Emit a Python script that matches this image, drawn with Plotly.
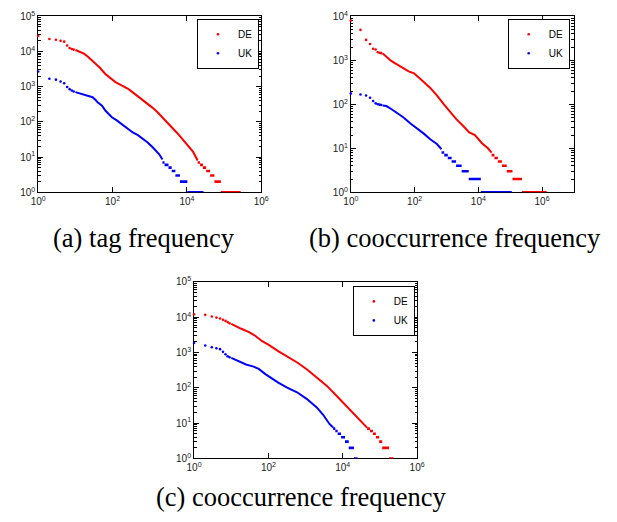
import plotly.graph_objects as go

# ---------------- data ----------------
# Panel (a) tag frequency
a_de_rank_sparse = [1, 2, 3, 4, 5, 6, 7, 8, 9]
a_de_freq_sparse = [27600, 22500, 21500, 20000, 19000, 14700, 12600, 11800, 11300]
a_de_rank_body = [10, 13, 17, 21, 28, 35, 45, 64, 80, 117, 160, 214, 262, 350, 480, 650, 880,
                  1200, 1600, 2200, 2900, 4000, 5300, 7500, 9800, 14700, 19500]
a_de_freq_body = [11000, 9800, 8700, 7300, 5600, 4600, 3500, 2300, 1900, 1370, 1150, 1000, 870,
                  690, 540, 420, 330, 250, 190, 135, 100, 70, 50, 33, 24, 14, 8]
a_de_step_freq = [7, 6, 5, 4, 3, 2, 1]
a_de_step_from = [19500, 22500, 27000, 33000, 42000, 55000, 82000]
a_de_step_to = [22500, 27000, 33000, 42000, 55000, 82000, 280000]

a_uk_rank_sparse = [1, 2, 3, 4, 5, 6, 7, 8, 9]
a_uk_freq_sparse = [2700, 1670, 1580, 1400, 1250, 980, 850, 780, 730]
a_uk_rank_body = [10, 13, 17, 22, 29, 35, 39, 52, 64, 80, 96, 130, 160, 210, 262, 350, 480, 650,
                  880, 1200, 1450, 1800, 2200]
a_uk_freq_body = [700, 650, 600, 540, 500, 420, 365, 290, 210, 165, 135, 110, 94, 75, 62, 50, 42,
                  33, 26, 19, 15.6, 12, 8.5]
a_uk_step_freq = [7, 6, 5, 4, 3, 2, 1]
a_uk_step_from = [2200, 2500, 3200, 3900, 4900, 6500, 10300]
a_uk_step_to = [2500, 3200, 3900, 4900, 6500, 10300, 28000]

# Panel (b) cooccurrence frequency
b_de_rank_sparse = [1, 2, 3, 4, 5, 6, 7, 8, 9]
b_de_freq_sparse = [8000, 4900, 2900, 2350, 1820, 1750, 1520, 1480, 1450]
b_de_rank_body = [10, 13, 18, 24, 30, 47, 65, 96, 122, 194, 310, 500, 795, 1270, 2030, 3240, 5200,
                  7800, 13000, 20000, 26000]
b_de_freq_body = [1420, 1180, 980, 860, 775, 650, 560, 505, 425, 320, 235, 160, 103, 69, 46, 33,
                  23, 20, 13, 10, 8]
b_de_step_freq = [7, 6, 5, 4, 3, 2, 1]
b_de_step_from = [26000, 32000, 41000, 55000, 78000, 118000, 235000]
b_de_step_to = [32000, 41000, 55000, 78000, 118000, 235000, 1400000]

b_uk_rank_sparse = [1, 2, 3, 4, 5, 6, 7, 8, 9]
b_uk_freq_sparse = [175, 167, 158, 141, 118, 105, 100, 98, 96]
b_uk_rank_body = [10, 13, 18.5, 26, 32, 45, 76, 122, 195, 310, 500, 700]
b_uk_freq_body = [94, 91, 78, 66, 60, 50, 36, 28, 21.5, 16, 12.5, 9.5]
b_uk_step_freq = [8, 7, 6, 5, 4, 3, 2, 1]
b_uk_step_from = [700, 850, 1100, 1450, 2000, 3000, 5000, 12000]
b_uk_step_to = [850, 1100, 1450, 2000, 3000, 5000, 12000, 112000]

# Panel (c) cooccurrence frequency
c_de_rank_sparse = [1, 2, 3, 4, 5, 6, 7, 8, 9]
c_de_freq_sparse = [12200, 11700, 10500, 9800, 9200, 8500, 7900, 7300, 6800]
c_de_rank_body = [10, 13, 18, 30, 45, 68, 100, 183, 335, 610, 1120, 2050, 3750, 6800, 12500,
                  20500, 34000, 45000]
c_de_freq_body = [6500, 5600, 4800, 3800, 2950, 2100, 1670, 1100, 760, 515, 325, 193, 114, 60,
                  31, 17, 10, 7.5]
c_de_step_freq = [7, 6, 5, 4, 3, 2, 1]
c_de_step_from = [45000, 54000, 65000, 78000, 95000, 115000, 175000]
c_de_step_to = [54000, 65000, 78000, 95000, 115000, 175000, 230000]

c_uk_rank_sparse = [1, 2, 3, 4, 5, 6, 7, 8, 9]
c_uk_freq_sparse = [1860, 1580, 1410, 1330, 1250, 1050, 900, 790, 740]
c_uk_rank_body = [10, 15, 25, 40, 55, 83, 123, 184, 320, 590, 1070, 2000, 3000, 4400, 5500]
c_uk_freq_body = [710, 580, 460, 400, 345, 245, 182, 141, 102, 75, 49, 28, 17, 9.5, 7.5]
c_uk_step_freq = [7, 6, 5, 4, 3, 2, 1]
c_uk_step_from = [5500, 6300, 7300, 9000, 11500, 14500, 20000]
c_uk_step_to = [6300, 7300, 9000, 11500, 14500, 20000, 25000]

series_names = ["DE", "UK"]
x_tick_vals = [1, 100, 10000, 1000000]
x_tick_text = ["10<sup>0</sup>", "10<sup>2</sup>", "10<sup>4</sup>", "10<sup>6</sup>"]
y_tick_vals = [1, 10, 100, 1000, 10000, 100000]
y_tick_text = ["10<sup>0</sup>", "10<sup>1</sup>", "10<sup>2</sup>", "10<sup>3</sup>",
               "10<sup>4</sup>", "10<sup>5</sup>"]
captions = ["(a) tag frequency", "(b) cooccurrence frequency", "(c) cooccurrence frequency"]

RED = "#ff0000"
BLUE = "#0000ff"
W, H = 617, 522

fig = go.Figure()


def add_series(name, color, xa, ya, legend, rs, fs, rb, fb, sf, s0, s1):
    fig.add_trace(go.Scatter(x=rs, y=fs, mode="markers", name=name,
                             marker=dict(color=color, size=2.6, line=dict(width=0)),
                             xaxis=xa, yaxis=ya, legend=legend, cliponaxis=False))
    fig.add_trace(go.Scatter(x=rb, y=fb, mode="lines", name=name, showlegend=False,
                             line=dict(color=color, width=2.0),
                             xaxis=xa, yaxis=ya, cliponaxis=False))
    sx, sy = [], []
    for f, a, b in zip(sf, s0, s1):
        sx += [a, b, None]
        sy += [f, f, None]
    fig.add_trace(go.Scatter(x=sx, y=sy, mode="lines", name=name, showlegend=False,
                             line=dict(color=color, width=2.6),
                             xaxis=xa, yaxis=ya, cliponaxis=False))


add_series(series_names[0], RED, "x", "y", "legend", a_de_rank_sparse, a_de_freq_sparse,
           a_de_rank_body, a_de_freq_body, a_de_step_freq, a_de_step_from, a_de_step_to)
add_series(series_names[1], BLUE, "x", "y", "legend", a_uk_rank_sparse, a_uk_freq_sparse,
           a_uk_rank_body, a_uk_freq_body, a_uk_step_freq, a_uk_step_from, a_uk_step_to)
add_series(series_names[0], RED, "x2", "y2", "legend2", b_de_rank_sparse, b_de_freq_sparse,
           b_de_rank_body, b_de_freq_body, b_de_step_freq, b_de_step_from, b_de_step_to)
add_series(series_names[1], BLUE, "x2", "y2", "legend2", b_uk_rank_sparse, b_uk_freq_sparse,
           b_uk_rank_body, b_uk_freq_body, b_uk_step_freq, b_uk_step_from, b_uk_step_to)
add_series(series_names[0], RED, "x3", "y3", "legend3", c_de_rank_sparse, c_de_freq_sparse,
           c_de_rank_body, c_de_freq_body, c_de_step_freq, c_de_step_from, c_de_step_to)
add_series(series_names[1], BLUE, "x3", "y3", "legend3", c_uk_rank_sparse, c_uk_freq_sparse,
           c_uk_rank_body, c_uk_freq_body, c_uk_step_freq, c_uk_step_from, c_uk_step_to)

TICKFONT = dict(family="Liberation Sans, Arial, sans-serif", size=10, color="#222222")


def xaxis(domain, hi, anchor):
    n = len([v for v in x_tick_vals if v <= 10 ** hi])
    return dict(type="log", domain=domain, range=[0, hi], anchor=anchor,
                tickmode="array", tickvals=x_tick_vals[:n], ticktext=x_tick_text[:n],
                ticks="inside", ticklen=5, tickwidth=1, tickcolor="black",
                showline=True, linecolor="black", linewidth=1, mirror="ticks",
                showgrid=False, zeroline=False, tickfont=TICKFONT, layer="below traces")


def yaxis(domain, hi, anchor):
    n = hi + 1
    return dict(type="log", domain=domain, range=[0, hi], anchor=anchor,
                tickmode="array", tickvals=y_tick_vals[:n], ticktext=y_tick_text[:n],
                ticks="inside", ticklen=5, tickwidth=1, tickcolor="black",
                showline=True, linecolor="black", linewidth=1, mirror="allticks",
                showgrid=False, zeroline=False, tickfont=TICKFONT, layer="below traces",
                minor=dict(ticks="inside", ticklen=2.5, tickcolor="black", dtick="D1",
                           showgrid=False))


ya_dom = [(H - 190) / H, (H - 9.5) / H]
fig.update_layout(
    width=W, height=H, margin=dict(l=0, r=0, t=0, b=0),
    paper_bgcolor="white", plot_bgcolor="white",
    xaxis=xaxis([31 / W, 260 / W], 6, "y"),
    yaxis=yaxis(ya_dom, 5, "x"),
    xaxis2=xaxis([352 / W, 581 / W], 7, "y2"),
    yaxis2=yaxis(ya_dom, 4, "x2"),
    xaxis3=xaxis([191 / W, 420 / W], 6, "y3"),
    yaxis3=yaxis([(H - 463) / H, (H - 282) / H], 5, "x3"),
)

LEG = dict(xanchor="left", yanchor="top", bordercolor="black", borderwidth=1, bgcolor="white",
           font=dict(family="Liberation Sans, Arial, sans-serif", size=10, color="black"),
           itemwidth=30, tracegroupgap=0)
fig.update_layout(
    legend=dict(LEG, x=194 / W, y=1 - 12 / H),
    legend2=dict(LEG, x=513 / W, y=1 - 12 / H),
    legend3=dict(LEG, x=354 / W, y=1 - 286 / H),
)

SERIF = "'Liberation Serif', 'DejaVu Serif', 'Times New Roman', serif"
for text, cx, cy in zip(captions, [140, 459, 301], [237, 237, 503]):
    fig.add_annotation(text=text, xref="paper", yref="paper", x=cx / W, y=1 - cy / H,
                       xanchor="center", yanchor="middle", showarrow=False,
                       font=dict(family=SERIF, size=26.5, color="black"))

fig.write_html("out.html")
